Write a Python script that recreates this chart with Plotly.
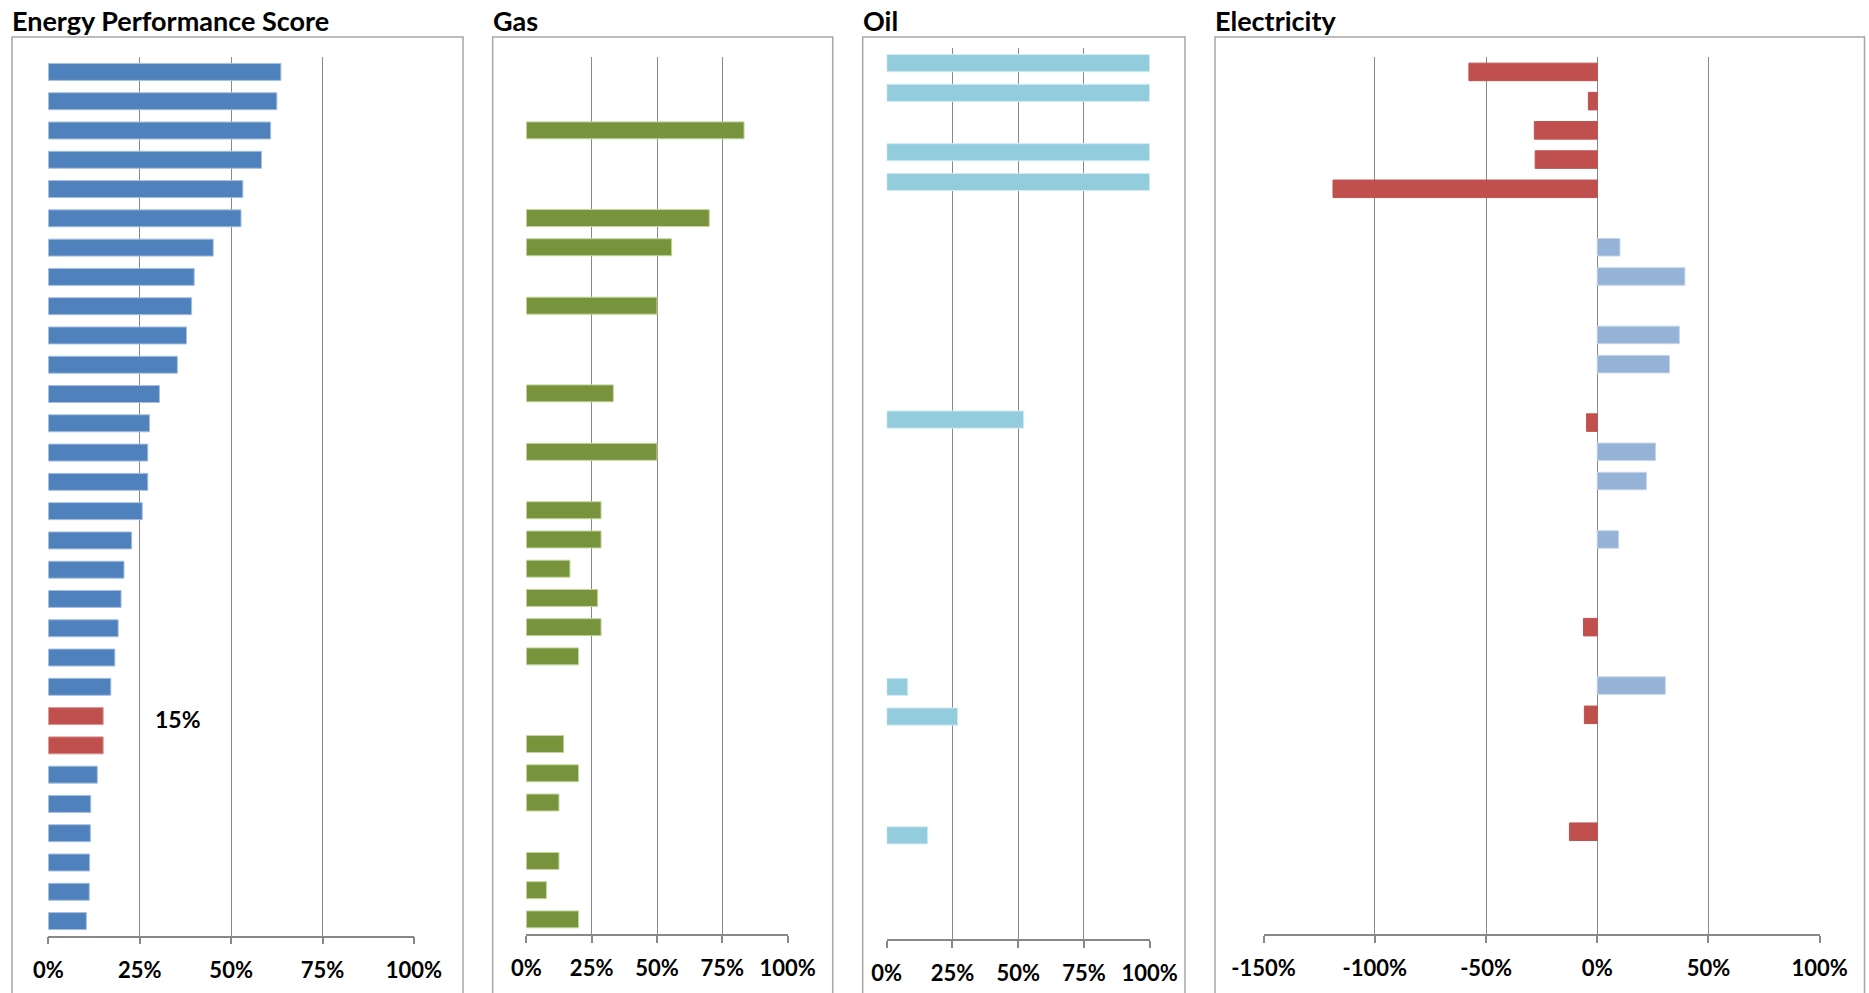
import plotly.graph_objects as go

W, H = 1869, 993

# ---- data -------------------------------------------------------------
rows = list(range(1, 31))

eps_values = [0.636, 0.625, 0.608, 0.583, 0.532, 0.527, 0.451, 0.399, 0.392, 0.378,
              0.353, 0.304, 0.277, 0.272, 0.272, 0.257, 0.228, 0.207, 0.199, 0.191,
              0.182, 0.171, 0.15, 0.15, 0.134, 0.116, 0.115, 0.113, 0.112, 0.104]
eps_highlight = [False] * 22 + [True, True] + [False] * 6

gas_values = [None, None, 0.833, None, None, 0.70, 0.556, None, 0.50, None,
              None, 0.333, None, 0.50, None, 0.286, 0.286, 0.167, 0.273, 0.286,
              0.20, None, None, 0.143, 0.20, 0.125, None, 0.125, 0.077, 0.20]

oil_values = [1.0, 1.0, None, 1.0, 1.0, None, None, None, None, None,
              None, None, 0.521, None, None, None, None, None, None, None,
              None, 0.08, 0.27, None, None, None, 0.156, None, None, None]

elec_values = [-0.577, -0.04, -0.283, -0.279, -1.188, None, 0.102, 0.394, None, 0.369,
               0.325, None, -0.048, 0.262, 0.221, None, 0.096, None, None, -0.062,
               None, 0.306, -0.058, None, None, None, -0.125, None, None, None]

pct_ticks = [0, 0.25, 0.5, 0.75, 1.0]
pct_labels = ["0%", "25%", "50%", "75%", "100%"]
elec_ticks = [-1.5, -1.0, -0.5, 0, 0.5, 1.0]
elec_labels = ["-150%", "-100%", "-50%", "0%", "50%", "100%"]

panel_titles = ["Energy Performance Score", "Gas", "Oil", "Electricity"]
eps_label = "15%"

# ---- styling ----------------------------------------------------------
BLUE = "#4F81BD"
RED = "#C0504D"
GREEN = "#77933C"
AQUA = "#93CDDD"
LIGHT_BLUE = "#95B3D7"
GRID = "#888888"
FRAME = "#A6A6A6"
FONT = "Lato"


def px_x(p):
    return p / W


def px_y(p):
    return 1 - p / H


# plot areas in pixels: (x0, x1, ytop, ybottom)
areas = {
    "eps": (48.3, 414.0, 57.3, 935.7),
    "gas": (526.3, 787.7, 57.3, 934.0),
    "oil": (886.7, 1149.7, 48.3, 939.3),
    "elec": (1263.6, 1819.7, 57.3, 934.0),
}
# panel frames: (x0, x1) with a shared top edge
frames = [(12, 463), (492.7, 832.7), (862.7, 1185), (1215, 1864.5)]
FRAME_TOP = 37

fig = go.Figure()

fig.add_trace(go.Bar(
    y=rows, x=eps_values, orientation="h", width=0.58,
    marker=dict(color=[RED if h else BLUE for h in eps_highlight],
                line=dict(color=["#D99694" if h else "#A7C0DE" for h in eps_highlight], width=1)),
    xaxis="x", yaxis="y", hoverinfo="skip",
))
fig.add_trace(go.Bar(
    y=rows, x=gas_values, orientation="h", width=0.58,
    marker=dict(color=GREEN, line=dict(color="#C3D69B", width=1)),
    xaxis="x2", yaxis="y2", hoverinfo="skip",
))
fig.add_trace(go.Bar(
    y=rows, x=oil_values, orientation="h", width=0.58,
    marker=dict(color=AQUA, line=dict(color="#D5ECF2", width=1)),
    xaxis="x3", yaxis="y3", hoverinfo="skip",
))
fig.add_trace(go.Bar(
    y=rows, x=elec_values, orientation="h", width=0.6,
    marker=dict(color=[(RED if (v is not None and v < 0) else LIGHT_BLUE) for v in elec_values],
                line=dict(color=[("#C0504D" if (v is not None and v < 0) else "#C5D5EA") for v in elec_values], width=1)),
    xaxis="x4", yaxis="y4", hoverinfo="skip",
))

tick_font = dict(family=FONT, size=22, color="black", weight=700)

layout = dict(
    width=W, height=H,
    margin=dict(l=0, r=0, t=0, b=0, autoexpand=False),
    paper_bgcolor="white", plot_bgcolor="white",
    showlegend=False, barmode="overlay",
)

keys = ["eps", "gas", "oil", "elec"]
for i, k in enumerate(keys):
    x0, x1, yt, yb = areas[k]
    sfx = "" if i == 0 else str(i + 1)
    if k == "elec":
        rng, tv, tt = [-1.5, 1.0], elec_ticks, elec_labels
    else:
        rng, tv, tt = [0, 1.0], pct_ticks, pct_labels
    layout["xaxis" + sfx] = dict(
        domain=[px_x(x0), px_x(x1)], range=rng, anchor="y" + sfx,
        tickvals=tv, ticktext=tt, tickfont=tick_font,
        showgrid=True, gridcolor=GRID, gridwidth=1.2,
        showline=True, linecolor=GRID, linewidth=1.5,
        ticks="outside", ticklen=7, tickcolor=GRID, tickwidth=1.5,
        zeroline=False, fixedrange=True, ticklabelstandoff=7,
        automargin=False,
    )
    layout["yaxis" + sfx] = dict(
        domain=[px_y(yb), px_y(yt)], range=[30.5, 0.5], anchor="x" + sfx,
        showticklabels=False, showgrid=False, zeroline=False,
        showline=False, ticks="", fixedrange=True, automargin=False,
    )

shapes = []
for fx0, fx1 in frames:
    shapes.append(dict(
        type="rect", xref="paper", yref="paper",
        x0=px_x(fx0), x1=px_x(fx1), y0=-0.05, y1=px_y(FRAME_TOP),
        line=dict(color=FRAME, width=1.5), fillcolor="rgba(0,0,0,0)", layer="below",
    ))
layout["shapes"] = shapes

annotations = []
for (fx0, _), title in zip(frames, panel_titles):
    annotations.append(dict(
        text=title, xref="paper", yref="paper",
        x=px_x(fx0 - 2), y=px_y(20), xanchor="left", yanchor="middle",
        showarrow=False, font=dict(family=FONT, size=27, color="black", weight=700),
    ))
annotations.append(dict(
    text=eps_label, xref="x", yref="y", x=0.355, y=23.1,
    xanchor="center", yanchor="middle", showarrow=False,
    font=dict(family=FONT, size=23, color="black", weight=700),
))
layout["annotations"] = annotations

fig.update_layout(**layout)
fig.write_html("out.html")
